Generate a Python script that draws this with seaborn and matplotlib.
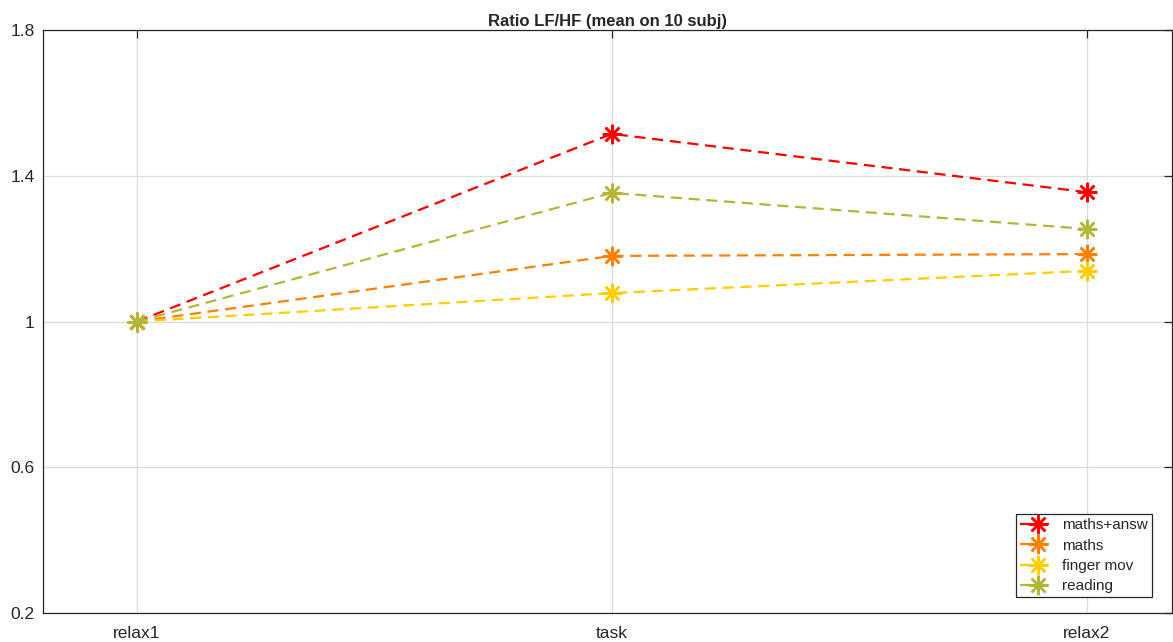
import numpy as np
import pandas as pd
import matplotlib
matplotlib.use('Agg')
import matplotlib.pyplot as plt
import seaborn as sns

# data
conditions = ['relax1', 'task', 'relax2']
maths_answ = [1.0, 1.515, 1.355]
maths = [1.0, 1.180, 1.185]
finger_mov = [1.0, 1.078, 1.139]
reading = [1.0, 1.353, 1.254]
series_names = ['maths+answ', 'maths', 'finger mov', 'reading']
series_colors = ['#ff0000', '#ff8000', '#ffcc00', '#b5b537']
yticks = [0.2, 0.6, 1, 1.4, 1.8]

sns.set_style('white')
plt.rcParams['font.family'] = ['Liberation Sans', 'DejaVu Sans']

fig = plt.figure(figsize=(11.73, 6.42), dpi=100)
ax = fig.add_axes([43 / 1173, 1 - 613 / 642, 1129 / 1173, 583 / 642])

all_vals = [maths_answ, maths, finger_mov, reading]
for name, vals, col in zip(series_names, all_vals, series_colors):
    df = pd.DataFrame({'cond': conditions, 'ratio': vals})
    sns.lineplot(data=df, x='cond', y='ratio', ax=ax, color=col, label=name,
                 linestyle=(0, (5, 3)), linewidth=1.6, marker=(8, 2, 0),
                 markersize=14, markeredgewidth=1.8, markeredgecolor=col,
                 sort=False)

ax.set_xlim(-0.198, 2.18)
ax.set_ylim(0.2, 1.8)
ax.set_yticks(yticks)
ax.set_yticklabels(['0.2', '0.6', '1', '1.4', '1.8'])
ax.set_xticks(range(len(conditions)))
ax.set_xticklabels(conditions)
ax.set_xlabel('')
ax.set_ylabel('')
ax.grid(True, color='#dcdcdc', linewidth=0.9)
ax.set_axisbelow(True)
ax.tick_params(direction='in', length=6, width=0.9, colors='#262626',
               labelsize=12.5, top=True, right=True)
ax.tick_params(axis='x', pad=9)
ax.tick_params(axis='y', pad=6)
for sp in ax.spines.values():
    sp.set_color('#262626')
    sp.set_linewidth(0.9)
ax.set_title('Ratio LF/HF (mean on 10 subj)', fontsize=12, fontweight='bold', pad=3)

leg = ax.legend(loc='lower right', bbox_to_anchor=(0.982, 0.027), borderaxespad=0,
                fontsize=11, frameon=True, fancybox=False,
                edgecolor='#262626', framealpha=1,
                handlelength=2.3, handletextpad=0.45, labelspacing=0.42,
                borderpad=0.25)
leg.get_frame().set_linewidth(0.9)

fig.savefig('out.png', dpi=100)
